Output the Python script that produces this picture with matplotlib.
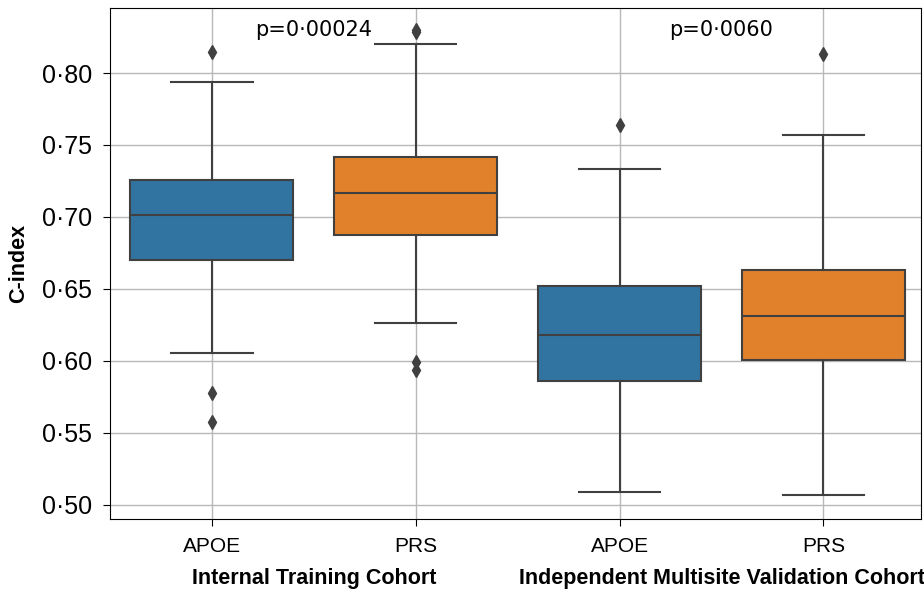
import matplotlib
matplotlib.use("Agg")
import matplotlib.pyplot as plt
from matplotlib.ticker import MultipleLocator, FuncFormatter

# box statistics (C-index)
groups = ['APOE', 'PRS', 'APOE', 'PRS']
cohorts = ['Internal Training Cohort', 'Independent Multisite Validation Cohort']
q1 = [0.670, 0.6875, 0.586, 0.6007]
med = [0.7014, 0.7167, 0.6181, 0.6313]
q3 = [0.7257, 0.7417, 0.6521, 0.6632]
whislo = [0.6056, 0.6264, 0.5090, 0.5069]
whishi = [0.7938, 0.8201, 0.7333, 0.7569]
fliers = [[0.8146, 0.5778, 0.5576],
          [0.8299, 0.8285, 0.5993, 0.5938],
          [0.7639],
          [0.8132]]
pvals = ['p=0·00024', 'p=0·0060']

colors = ['#3274a1', '#e1812c', '#3274a1', '#e1812c']
lc = '#404040'

stats = []
for i in range(4):
    stats.append(dict(q1=q1[i], med=med[i], q3=q3[i], whislo=whislo[i],
                      whishi=whishi[i], fliers=fliers[i], label=groups[i]))

fig = plt.figure(figsize=(9.24, 5.9), dpi=100)
ax = fig.add_axes([0.119, 0.120, 0.878, 0.866])
ax.set_axisbelow(True)
ax.grid(True, color='#b8b8b8', linewidth=1)

bp = ax.bxp(stats, positions=range(4), widths=0.8, patch_artist=True,
            boxprops=dict(edgecolor=lc, linewidth=1.5),
            medianprops=dict(color=lc, linewidth=1.5),
            whiskerprops=dict(color=lc, linewidth=1.5),
            capprops=dict(color=lc, linewidth=1.5),
            flierprops=dict(marker='d', markerfacecolor=lc, markeredgecolor=lc, markersize=7))
for patch, c in zip(bp['boxes'], colors):
    patch.set_facecolor(c)

ax.set_xlim(-0.5, 3.48)
ax.set_ylim(0.490, 0.845)
ax.yaxis.set_major_locator(MultipleLocator(0.05))
ax.yaxis.set_major_formatter(FuncFormatter(lambda v, p: ('%.2f' % v).replace('.', '·')))
ax.set_xticks(range(4))
ax.set_xticklabels(groups, fontsize=15, family='Liberation Sans')
ax.tick_params(axis='x', pad=8, length=5)
ax.tick_params(axis='y', pad=8, length=5)
for lab in ax.get_yticklabels():
    lab.set_fontsize(18)
    lab.set_family('Liberation Sans')
ax.set_ylabel('C-index', fontsize=15.5, fontweight='bold', family='Liberation Sans', labelpad=9)

ax.text(0.5, 0.830, pvals[0], ha='center', va='center', fontsize=15, family='DejaVu Sans')
ax.text(2.5, 0.830, pvals[1], ha='center', va='center', fontsize=15, family='DejaVu Sans')

for k, name in enumerate(cohorts):
    ax.text(0.5 + 2 * k, -0.117, name, transform=ax.get_xaxis_transform(),
            ha='center', va='center', fontsize=15.5, fontweight='bold', family='Liberation Sans')

fig.savefig('out.png', dpi=100)
